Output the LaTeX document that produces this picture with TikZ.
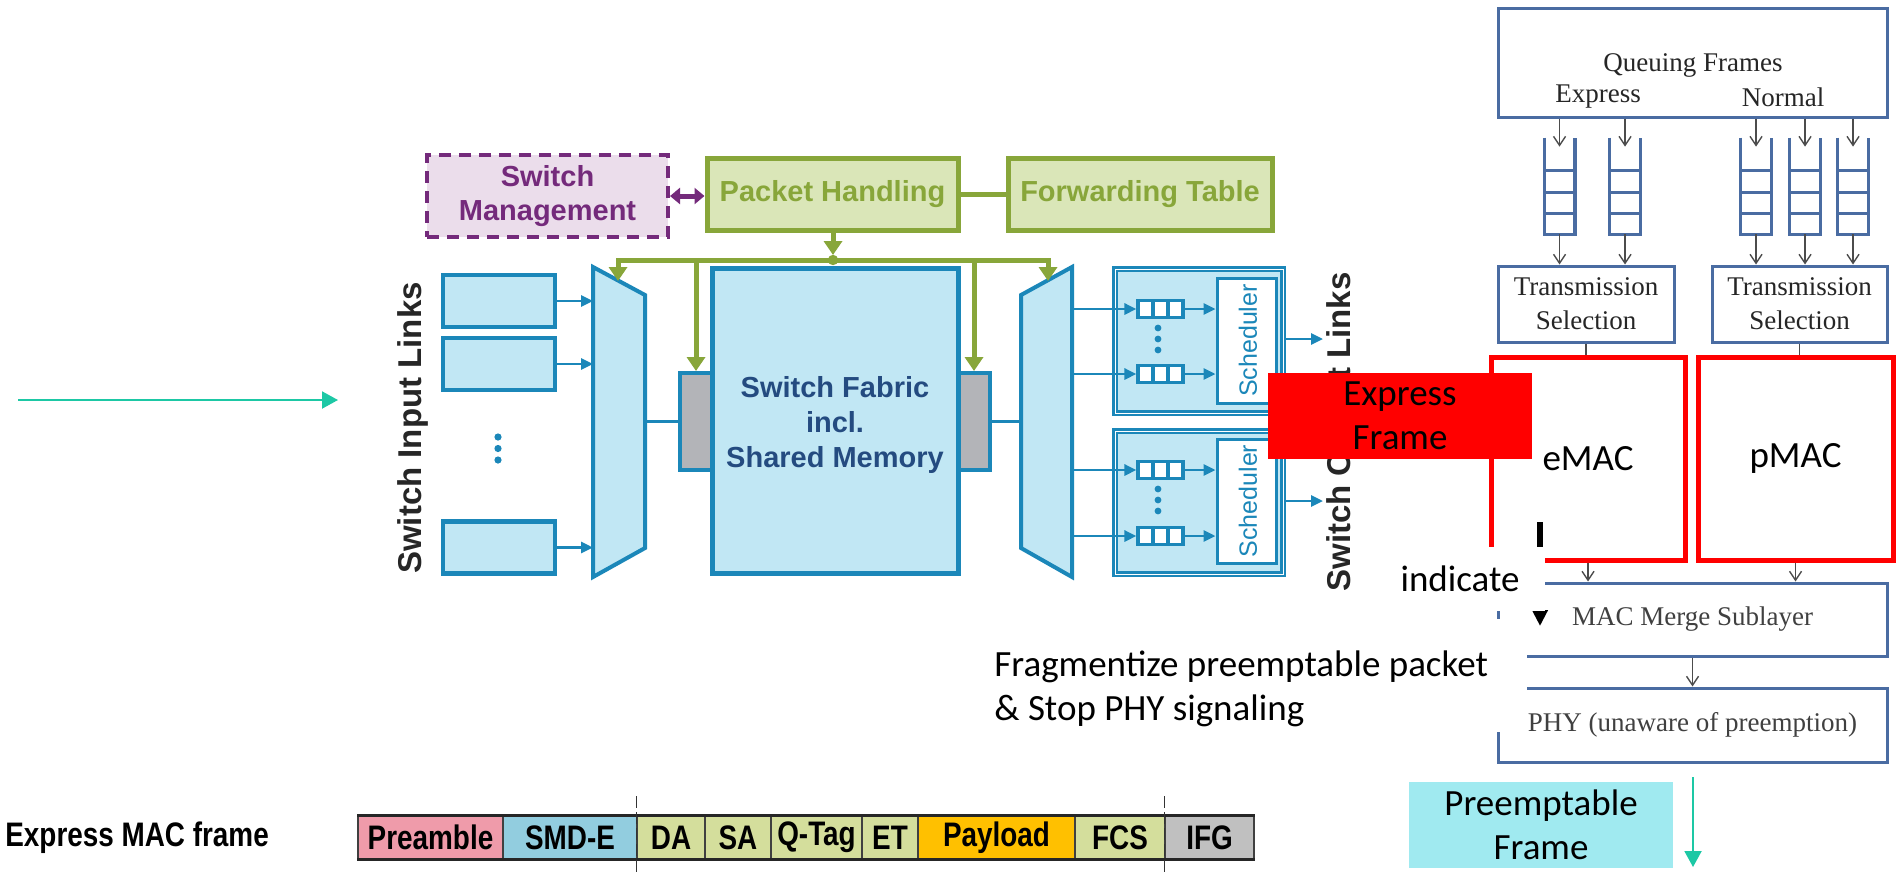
\documentclass[tikz,border=0pt]{standalone}
\usepackage{fontspec}
\usetikzlibrary{arrows.meta,calc}
\newfontfamily\arialf{Liberation Sans}
\newfontfamily\timesf{Liberation Serif}
\newfontfamily\calibf{Carlito}
\newfontfamily\narrowf[FakeStretch=0.82]{Liberation Sans}

\definecolor{swblue}{HTML}{1B87B9}
\definecolor{swfill}{HTML}{C1E7F4}
\definecolor{swgreen}{HTML}{88A63A}
\definecolor{swgreenfill}{HTML}{DAE6B8}
\definecolor{swpurple}{HTML}{742A7B}
\definecolor{swpurplefill}{HTML}{EBDDEB}
\definecolor{swgray}{HTML}{B3B4B8}
\definecolor{fabtext}{HTML}{244B80}
\definecolor{steel}{HTML}{4A6CA2}
\definecolor{flowteal}{HTML}{1DC8A5}
\definecolor{preempt}{HTML}{A0EAF0}
\definecolor{fpink}{HTML}{EF9BAA}
\definecolor{fblue}{HTML}{92CDDF}
\definecolor{fgreen}{HTML}{D4DE9C}
\definecolor{forange}{HTML}{FFC000}
\definecolor{fgray}{HTML}{C0C0C0}

\tikzset{
  bluebox/.style={draw=swblue, fill=swfill, line width=2.2pt, inner sep=0pt},
  blueline/.style={draw=swblue, line width=1.4pt},
  bluearrow/.style={blueline, -{Triangle[length=6pt,width=5.5pt]}},
  muxstyle/.style={draw=swblue, fill=swfill, line width=2pt, line join=miter},
  greenline/.style={draw=swgreen, line width=2.5pt},
  greenarrow/.style={greenline, -{Triangle[length=7pt,width=9pt]}},
  greenbox/.style={draw=swgreen, fill=swgreenfill, line width=2.5pt, text=swgreen,
    font=\arialf\bfseries\fontsize{14.5}{17}\selectfont, inner sep=0pt},
  mgmtbox/.style={draw=swpurple, fill=swpurplefill, line width=2pt, dash pattern=on 6pt off 4pt,
    text=swpurple, align=center, inner sep=0pt,
    font=\arialf\bfseries\fontsize{14.5}{17}\selectfont},
  mgmtarrow/.style={draw=swpurple, line width=2.5pt,
    {Triangle[length=5pt,width=8pt]}-{Triangle[length=5pt,width=8pt]}},
  grayblock/.style={draw=swblue, fill=swgray, line width=2pt, minimum width=16pt,
    minimum height=48.5pt, inner sep=0pt},
  outbox/.style={draw=swblue, fill=swfill, line width=1.1pt, double=white,
    double distance=0.5pt, inner sep=0pt},
  schedbox/.style={draw=swblue, fill=white, line width=1.5pt, minimum width=29.5pt, inner sep=0pt},
  schedtext/.style={text=swblue, inner sep=0pt, font=\arialf\fontsize{12.5}{14}\selectfont},
  miniq/.style={draw=swblue, fill=white, line width=1.6pt, minimum width=22.5pt,
    minimum height=8.5pt, inner sep=0pt,
    path picture={\draw[swblue, line width=1.6pt]
      ($(path picture bounding box.south west)!1/3!(path picture bounding box.south east)$) --
      ($(path picture bounding box.north west)!1/3!(path picture bounding box.north east)$)
      ($(path picture bounding box.south west)!2/3!(path picture bounding box.south east)$) --
      ($(path picture bounding box.north west)!2/3!(path picture bounding box.north east)$);}},
  linklabel/.style={text=black!85, inner sep=0pt, font=\arialf\bfseries\fontsize{16.5}{19}\selectfont},
  steelbox/.style={draw=steel, fill=white, line width=1.5pt, inner sep=0pt},
  serif/.style={text=black!85, inner sep=0pt, align=center, font=\timesf\fontsize{13.5}{17}\selectfont},
  qline/.style={draw=steel, line width=1.6pt},
  thinline/.style={draw=black!70, line width=0.7pt},
  thinarrow/.style={thinline, -{Straight Barb[length=4.5pt,width=6pt]}},
  macbox/.style={draw=red, fill=white, line width=2.5pt, inner sep=0pt,
    font=\calibf\fontsize{18.5}{22}\selectfont},
  calib/.style={inner sep=0pt, align=center, font=\calibf\fontsize{18.5}{22}\selectfont},
  flowarrow/.style={draw=flowteal, line width=1pt, -{Triangle[length=8pt,width=8.5pt]}},
  fcell/.style={draw=black!75, line width=0.7pt, minimum height=21.5pt, inner sep=0pt,
    font=\narrowf\bfseries\fontsize{17}{20}\selectfont},
  cut/.style={draw=black!80, line width=0.6pt, dash pattern=on 6pt off 2pt}
}

\begin{document}
\begin{tikzpicture}[x=0.5pt,y=-0.5pt]
\useasboundingbox (0,0) rectangle (1898,874);

% ---------- incoming traffic ----------
\coordinate (srcL) at (18,400);
\coordinate (srcR) at (338,400);
\draw[flowarrow] (srcL) -- (srcR);

% ---------- control plane ----------
\node[mgmtbox, minimum width=120.5pt, minimum height=41pt] (sm) at (547.5,196) {Switch\\Management};
\node[greenbox, minimum width=125.5pt, minimum height=36pt] (ph) at (832.5,194) {Packet Handling};
\node[greenbox, minimum width=132pt, minimum height=36pt] (ft) at (1140,194) {Forwarding Table};
\draw[greenline] (ph.east) -- (ft.west);
\draw[mgmtarrow] (sm.east) -- (sm.east -| ph.west);

% ---------- input side ----------
\node[bluebox, minimum width=56pt, minimum height=26pt] (in1) at (499,301) {};
\node[bluebox, minimum width=56pt, minimum height=26pt] (in2) at (499,364) {};
\node[bluebox, minimum width=56pt, minimum height=26pt] (in3) at (499,547.5) {};
\foreach \y in {437,448.5,460} \fill[swblue] (498,\y) circle (1.8pt);

\coordinate (mi1) at (593,267);
\coordinate (mi2) at (645,295);
\coordinate (mi3) at (645,548);
\coordinate (mi4) at (593,577);
\draw[muxstyle] (mi1) -- (mi2) -- (mi3) -- (mi4) -- cycle;
\draw[bluearrow] (in1) -- (in1 -| mi1);
\draw[bluearrow] (in2) -- (in2 -| mi1);
\draw[bluearrow] (in3) -- (in3 -| mi1);

\node[linklabel, rotate=90] (lblin) at (413,428) {Switch Input Links};

% ---------- fabric ----------
\node[grayblock] (gl) at (696,421.5) {};
\node[grayblock] (gr) at (974,421.5) {};
\node[bluebox, line width=2.5pt, minimum width=123pt, minimum height=152.5pt] (fab) at (835,420.5) {};
\node[text=fabtext, align=center, inner sep=0pt,
  font=\arialf\bfseries\fontsize{14.5}{17.5}\selectfont] (fabt) at (835,425)
  {Switch Fabric\\incl.\\Shared Memory};
\draw[blueline] (gl.west -| mi2) -- (gl.west);

% ---------- output side ----------
\coordinate (mo1) at (1021,295);
\coordinate (mo2) at (1072,267);
\coordinate (mo3) at (1072,577);
\coordinate (mo4) at (1021,548);
\draw[muxstyle] (mo1) -- (mo2) -- (mo3) -- (mo4) -- cycle;
\draw[blueline] (gr.east) -- (gr.east -| mo1);

\node[outbox, minimum width=84pt, minimum height=72pt] (ob1) at (1199,341) {};
\node[outbox, minimum width=84pt, minimum height=71.5pt] (ob2) at (1199,502.5) {};
\node[schedbox, minimum height=62.5pt] (sc1) at (1246.5,340.5) {};
\node[schedbox, minimum height=62pt] (sc2) at (1246.5,501) {};
\node[schedtext, rotate=90] (sct1) at (1248,340.5) {Scheduler};
\node[schedtext, rotate=90] (sct2) at (1248,501) {Scheduler};

\node[miniq] (qa1) at (1160.5,309) {};
\node[miniq] (qa2) at (1160.5,374) {};
\node[miniq] (qa3) at (1160.5,470) {};
\node[miniq] (qa4) at (1160.5,536) {};
\foreach \y in {328,339,350,489,500,511} \fill[swblue] (1158,\y) circle (1.7pt);
\draw[bluearrow] (qa1 -| mo2) -- (qa1);
\draw[bluearrow] (qa2 -| mo2) -- (qa2);
\draw[bluearrow] (qa3 -| mo2) -- (qa3);
\draw[bluearrow] (qa4 -| mo2) -- (qa4);
\draw[bluearrow] (qa1) -- (qa1 -| sc1.west);
\draw[bluearrow] (qa2) -- (qa2 -| sc1.west);
\draw[bluearrow] (qa3) -- (qa3 -| sc2.west);
\draw[bluearrow] (qa4) -- (qa4 -| sc2.west);

\coordinate (out1) at (1323,339);
\coordinate (out2) at (1323,501);
\draw[bluearrow] (out1 -| ob1.east) -- (out1);
\draw[bluearrow] (out2 -| ob2.east) -- (out2);

\node[linklabel, rotate=90] (lblout) at (1342,432) {Switch Output Links};

% ---------- control bus ----------
\coordinate (bus) at (833,260);
\coordinate (busL) at (618,260);
\coordinate (busR) at (1048,260);
\coordinate (muxinT) at (618,281);
\coordinate (muxoutT) at (1048,281);
\draw[greenarrow] (ph.south -| bus) -- ($(bus)+(0,-5)$);
\draw[greenarrow, line join=miter] (bus) -- (busL) -- (muxinT);
\draw[greenarrow, line join=miter] (bus) -- (busR) -- (muxoutT);
\draw[greenarrow] (gl.north |- bus) -- (gl.north);
\draw[greenarrow] (gr.north |- bus) -- (gr.north);
\fill[swgreen] (bus) circle (2.6pt);

% ---------- preemption stack ----------
\node[steelbox, minimum width=194.5pt, minimum height=54.5pt] (qf) at (1692.5,62.5) {};
\node[serif] (qft) at (1693,65) {Queuing Frames};
\node[serif] (qfe) at (1598,97) {Express};
\node[serif] (qfn) at (1783,97) {Normal};

\node[steelbox, minimum width=88pt, minimum height=38pt, align=center, text=black!85,
  font=\timesf\fontsize{13.5}{17}\selectfont] (ts1) at (1586,304) {Transmission\\Selection};
\node[steelbox, minimum width=87.5pt, minimum height=38pt, align=center, text=black!85,
  font=\timesf\fontsize{13.5}{17}\selectfont] (ts2) at (1799.5,304) {Transmission\\Selection};

\foreach \n/\x/\t in {1/1559.5/ts1, 2/1625/ts1, 3/1756/ts2, 4/1805/ts2, 5/1853/ts2} {
  \node[minimum width=15pt, minimum height=48pt, inner sep=0pt] (q\n) at (\x,186) {};
  \draw[qline, line join=miter] (q\n.north west) -- (q\n.south west) -- (q\n.south east) -- (q\n.north east);
  \foreach \d in {21,42,64}
    \draw[qline] ($(q\n.south west)+(0,-\d)$) -- ($(q\n.south east)+(0,-\d)$);
  \draw[thinarrow] (q\n.north |- qf.south) -- ($(q\n.north)+(0,9)$);
  \draw[thinarrow] (q\n.south) -- (q\n.south |- \t.north);
}

\node[macbox, minimum width=97pt, minimum height=101.5pt] (em) at (1588,458.5) {eMAC};
\node[macbox, minimum width=97.5pt, minimum height=101.5pt] (pm) at (1795.5,458.5) {pMAC};
\draw[thinline] (ts1.south) -- (ts1.south |- em.north);
\draw[thinline] (ts2.south) -- (ts2.south |- pm.north);

\node[steelbox, minimum width=194.5pt, minimum height=36.5pt, text=black!75,
  font=\timesf\fontsize{13.5}{17}\selectfont] (mm) at (1692.5,619.5) {MAC Merge Sublayer};
\node[steelbox, minimum width=194.5pt, minimum height=37pt, text=black!75,
  font=\timesf\fontsize{13.5}{17}\selectfont] (phy) at (1692.5,725) {PHY (unaware of preemption)};
\draw[thinarrow] (em.south) -- (em.south |- mm.north);
\draw[thinarrow] (pm.south) -- (pm.south |- mm.north);
\draw[thinarrow] (mm.south) -- (phy.north);

% express frame indication
\coordinate (ebar) at (1540,522);
\coordinate (etip) at (1540,626);
\draw[line width=3.2pt, -{Triangle[length=8pt,width=7.5pt]}] (ebar) -- (etip);
\node[calib, fill=white, minimum width=84.5pt, minimum height=32pt] (ind) at (1460,579) {indicate};

\fill[white] (985,619) rectangle (1527,732);
\node[calib, align=left, anchor=west] (frag) at (994,689)
  {Fragmentize preemptable packet\\\& Stop PHY signaling};

\node[calib, fill=red, minimum width=132pt, minimum height=43pt] (ef) at (1400,416) {Express\\Frame};

\coordinate (phyout) at (1693,777);
\coordinate (preout) at (1693,867);
\draw[flowarrow] (phyout) -- (preout);
\node[calib, fill=preempt, minimum width=132pt, minimum height=43pt] (pf) at (1541,825) {Preemptable\\Frame};

% ---------- frame format ----------
\node[anchor=west, inner sep=0pt, font=\narrowf\bfseries\fontsize{17}{20}\selectfont] (fmt) at (5,838) {Express MAC frame};
\node[fcell, fill=fpink,   minimum width=72.5pt] (pre) at (430.5,837.5) {Preamble};
\node[fcell, fill=fblue,   minimum width=67pt]   (smd) at (570,837.5) {SMD-E};
\node[fcell, fill=fgreen,  minimum width=34pt]   (da)  at (671,837.5) {DA};
\node[fcell, fill=fgreen,  minimum width=33pt]   (sa)  at (738,837.5) {SA};
\node[fcell, fill=fgreen,  minimum width=45.5pt] (qt)  at (816.5,837.5) {Q-Tag};
\node[fcell, fill=fgreen,  minimum width=28pt]   (et)  at (890,837.5) {ET};
\node[fcell, fill=forange, minimum width=78.5pt] (pl)  at (996.5,837.5) {Payload};
\node[fcell, fill=fgreen,  minimum width=45pt]   (fcs) at (1120,837.5) {FCS};
\node[fcell, fill=fgray,   minimum width=44.5pt] (ifg) at (1209.5,837.5) {IFG};
\draw[black!85, line width=1.4pt] (pre.north west) -- (ifg.north east);
\draw[black!85, line width=1.4pt] (pre.south west) -- (ifg.south east);
\draw[cut] ($(da.north west)+(0,-19)$) -- ($(da.south west)+(0,15)$);
\draw[cut] ($(ifg.north west)+(0,-19)$) -- ($(ifg.south west)+(0,15)$);

\end{tikzpicture}
\end{document}
